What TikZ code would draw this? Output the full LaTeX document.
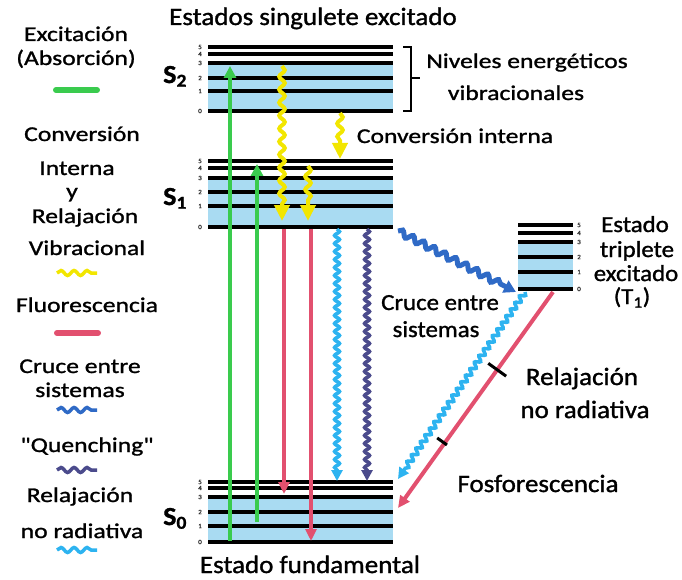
\documentclass[tikz,border=0pt]{standalone}
\usepackage{fontspec}
\setmainfont{Carlito}[FakeStretch=1.08,FakeBold=1.2]
\newfontfamily\legf{Carlito}[FakeStretch=1.22,FakeBold=1.2]
\usetikzlibrary{arrows.meta,decorations.pathmorphing,calc}
\definecolor{bandblue}{RGB}{169,219,242}
\definecolor{cgreen}{RGB}{58,203,78}
\definecolor{cyellow}{RGB}{242,230,0}
\definecolor{cred}{RGB}{226,80,111}
\definecolor{clblue}{RGB}{45,179,240}
\definecolor{cpurple}{RGB}{75,75,140}
\definecolor{cdblue}{RGB}{47,106,198}
\begin{document}
\begin{tikzpicture}[x=1pt,y=-1pt,
  lev/.style={line width=3.2pt,black},
  band/.style={fill=bandblue,draw=none},
  digit/.style={font=\fontsize{6.5}{6.5}\selectfont,inner sep=0pt,text=black!80},
  big/.style={font=\fontsize{25}{28}\selectfont,inner sep=0pt,anchor=base},
  med/.style={font=\fontsize{23}{26}\selectfont,inner sep=0pt,anchor=base},
  mid/.style={font=\legf\fontsize{21}{24}\selectfont,inner sep=0pt,anchor=base},
  slab/.style={font=\fontsize{26}{28}\selectfont\bfseries,inner sep=0pt,anchor=base west},
  absarr/.style={draw=cgreen,line width=4.5pt,-{Triangle[length=12pt,width=12pt]}},
  fluarr/.style={draw=cred,line width=4pt,-{Triangle[length=12pt,width=11pt]}},
  icarr/.style={draw=cyellow,line width=4pt,-{Triangle[length=16pt,width=15pt]},
    decorate,decoration={snake,amplitude=2.8pt,segment length=13pt,post length=16pt}},
  nrarr/.style={draw=clblue,line width=3.5pt,-{Triangle[length=11pt,width=11pt]},
    decorate,decoration={snake,amplitude=2.5pt,segment length=8pt,post length=11pt}},
  qarr/.style={draw=cpurple,line width=3.5pt,-{Triangle[length=11pt,width=11pt]},
    decorate,decoration={snake,amplitude=2.5pt,segment length=8pt,post length=11pt}},
  iscarr/.style={draw=cdblue,line width=5pt,-{Triangle[length=12pt,width=13pt]},
    decorate,decoration={snake,amplitude=3pt,segment length=12pt,post length=12pt}},
  swatch/.style={line width=6pt,line cap=round},
  wswatch/.style={line width=3.5pt,decorate,decoration={snake,amplitude=2.5pt,segment length=13pt}},
  tickmark/.style={line width=3pt,black}
]
\useasboundingbox (0,0) rectangle (682,580);

% ---------- energy blocks ----------
% S2
\fill[band] (208,63) rectangle (393,111);
\foreach \yy/\nn in {47/5,54/4,63/3,78/2,91/1,111/0}{
  \draw[lev] (208,\yy) -- (393,\yy);
  \node[digit] (sa\nn) at (200,\yy) {\nn};
}
% S1
\fill[band] (208,178) rectangle (393,227);
\foreach \yy/\nn in {161/5,168/4,178/3,192/2,206/1,227/0}{
  \draw[lev] (208,\yy) -- (393,\yy);
  \node[digit] (sb\nn) at (200,\yy) {\nn};
}
% S0
\fill[band] (208,497) rectangle (393,542);
\foreach \yy/\nn in {482/5,488/4,497/3,512/2,526/1,542/0}{
  \draw[lev] (208,\yy) -- (393,\yy);
  \node[digit] (sc\nn) at (200,\yy) {\nn};
}
% T1
\fill[band] (518,242) rectangle (573,289);
\foreach \yy/\nn in {225/5,233/4,242/3,257/2,272/1,289/0}{
  \draw[lev] (518,\yy) -- (573,\yy);
  \node[digit] (t\nn) at (579,\yy) {\nn};
}

% ---------- state labels ----------
\node[slab] (S2) at (163,83) {S\textsubscript{2}};
\node[slab] (S1) at (163,205) {S\textsubscript{1}};
\node[slab] (S0) at (163,525) {S\textsubscript{0}};
\node[big] (title) at (313,25) {Estados singulete excitado};
\node[big] (fund) at (310,573) {Estado fundamental};

% bracket
\draw[line width=2.5pt] (403,47) -- (411,47) -- (411,111) -- (403,111);
\draw[line width=2.5pt] (411,78) -- (420,78);
\node[mid] (niv1) at (527,68) {Niveles energéticos};
\node[mid] (niv2) at (516,100) {vibracionales};
\node[mid] (convi) at (455,143) {Conversión interna};

% T1 labels
\node[med] (tl1) at (635,232) {Estado};
\node[med] (tl2) at (637,257) {triplete};
\node[med] (tl3) at (636,281) {excitado};
\node[med] (tl4) at (632,304) {(T\textsubscript{1})};

\node[med] (cr1) at (440,310) {Cruce entre};
\node[med] (cr2) at (436,337) {sistemas};
\node[big] (rn1) at (582,385) {Relajación};
\node[big] (rn2) at (585,418) {no radiativa};
\node[big] (fos) at (538,492) {Fosforescencia};

% ---------- arrow end points ----------
\coordinate (g1a) at (230,541);  \coordinate (g1b) at (230,66);
\coordinate (g2a) at (257,522);  \coordinate (g2b) at (257,164);
\coordinate (y1a) at (282,66);   \coordinate (y1b) at (282,221);
\coordinate (y2a) at (308,166);  \coordinate (y2b) at (308,221);
\coordinate (y3a) at (340,113);  \coordinate (y3b) at (340,159);
\coordinate (r1a) at (284,229);  \coordinate (r1b) at (284,494);
\coordinate (r2a) at (311,229);  \coordinate (r2b) at (311,541);
\coordinate (la) at (337,229);   \coordinate (lb) at (337,481);
\coordinate (qa) at (367,229);   \coordinate (qb) at (367,481);
\coordinate (ia) at (398,231);   \coordinate (ib) at (516,292);
\coordinate (ta) at (525,292);   \coordinate (tb) at (398,479);
\coordinate (pa) at (553,292);   \coordinate (pb) at (398,508);

% ---------- arrows ----------
\draw[absarr] (g1a) -- (g1b);
\draw[absarr] (g2a) -- (g2b);
\draw[fluarr] (r1a) -- (r1b);
\draw[fluarr] (r2a) -- (r2b);
\draw[icarr] (y1a) -- (y1b);
\draw[icarr] (y2a) -- (y2b);
\draw[icarr] (y3a) -- (y3b);
\draw[nrarr] (la) -- (lb);
\draw[qarr] (qa) -- (qb);
\draw[iscarr] (ia) -- (ib);
\draw[nrarr] (ta) -- (tb);
\draw[fluarr] (pa) -- (pb);
\path (pa) -- (pb) coordinate[pos=0.36] (tk1) coordinate[pos=0.7] (tk2);
\draw[tickmark] ($(tk1)!11pt!90:(pb)$) -- ($(tk1)!11pt!-90:(pb)$);
\draw[tickmark] ($(tk2)!3pt!90:(pb)$) -- ($(tk2)!9pt!-90:(pb)$);

% ---------- legend ----------
\node[mid] (l1) at (76,41) {Excitación};
\node[mid] (l2) at (76,65) {(Absorción)};
\coordinate (sw1a) at (56,90); \coordinate (sw1b) at (97,90);
\draw[swatch,cgreen] (sw1a) -- (sw1b);
\node[mid] (l3) at (82,141) {Conversión};
\node[mid] (l4) at (77,175) {Interna};
\node[mid] (l5) at (72,198) {y};
\node[mid] (l6) at (85,223) {Relajación};
\node[mid] (l7) at (87,255) {Vibracional};
\coordinate (sw2a) at (57,273); \coordinate (sw2b) at (97,273);
\draw[wswatch,cyellow] (sw2a) -- (sw2b);
\node[mid] (l8) at (87,312) {Fluorescencia};
\coordinate (sw3a) at (57,333); \coordinate (sw3b) at (98,333);
\draw[swatch,cred] (sw3a) -- (sw3b);
\node[mid] (l9) at (80,373) {Cruce entre};
\node[mid] (l10) at (80,397) {sistemas};
\coordinate (sw4a) at (57,410); \coordinate (sw4b) at (97,410);
\draw[wswatch,cdblue] (sw4a) -- (sw4b);
\node[mid] (l11) at (87,452) {"Quenching"};
\coordinate (sw5a) at (57,470); \coordinate (sw5b) at (97,470);
\draw[wswatch,cpurple] (sw5a) -- (sw5b);
\node[mid] (l12) at (80,502) {Relajación};
\node[mid] (l13) at (82,538) {no radiativa};
\coordinate (sw6a) at (57,550); \coordinate (sw6b) at (97,550);
\draw[wswatch,clblue] (sw6a) -- (sw6b);
\end{tikzpicture}
\end{document}
